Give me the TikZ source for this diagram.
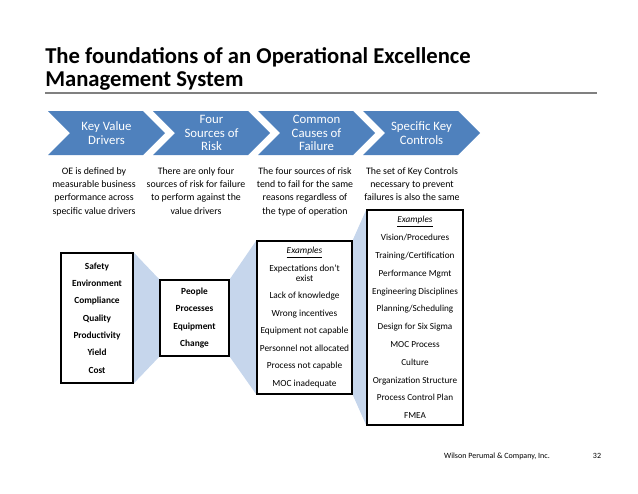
\documentclass[tikz,border=0pt]{standalone}
\usepackage{fontspec}
\setmainfont{Carlito}
\usetikzlibrary{positioning,backgrounds}
\definecolor{chevblue}{RGB}{79,129,189}
\definecolor{linkblue}{RGB}{198,214,236}
\definecolor{rulegray}{RGB}{128,128,128}
\tikzset{
  titletext/.style={anchor=base west, inner sep=0pt, font=\fontsize{17}{19}\selectfont\bfseries},
  chevtext/.style={text=white, align=center, inner sep=0pt, font=\fontsize{9.6}{10}\selectfont},
  desc/.style={anchor=north, align=center, inner sep=0pt, font=\fontsize{7.4}{10}\selectfont},
  box/.style={draw, line width=0.9pt, fill=white, align=center, inner sep=0pt},
  foot/.style={inner sep=0pt, font=\fontsize{6}{7}\selectfont}
}
\newcommand{\exhead}{\underline{\textit{Examples}}}
\begin{document}
\begin{tikzpicture}[x=0.75pt, y=-0.75pt]
    \useasboundingbox (0,0) rectangle (638,493);
    \node[titletext] (title1) at (45,63) {The foundations of an Operational Excellence};
    \node[titletext] (title2) at (45,86) {Management System};
    \draw[rulegray, line width=1.1pt] (45,93) -- (597,93);
    \foreach \i/\txt in {0/{Key Value\\Drivers}, 1/{Four\\Sources of\\Risk}, 2/{Common\\Causes of\\Failure}, 3/{Specific Key\\Controls}} {
        \pgfmathsetmacro\xl{48+105*\i}
        \fill[chevblue] (\xl,111) -- ++(95,0) -- ++(22,22) -- ++(-22,22) -- ++(-95,0) -- ++(22,-22) -- cycle;
        \node[chevtext] (chev\i) at (\xl+58.5,133) {\txt};
    }
    \node[desc] (desc0) at (94,167) {OE is defined by\\measurable business\\performance across\\specific value drivers};
    \node[desc] (desc1) at (196,167) {There are only four\\sources of risk for failure\\to perform against the\\value drivers};
    \node[desc] (desc2) at (305,167) {The four sources of risk\\tend to fail for the same\\reasons regardless of\\the type of operation};
    \node[desc] (desc3) at (412,167) {The set of Key Controls\\necessary to prevent\\failures is also the same};
    \node[box, minimum width=54pt, minimum height=97.5pt, font=\fontsize{7}{13}\selectfont\bfseries] (drivers) at (97,318)
        {Safety\\Environment\\Compliance\\Quality\\Productivity\\Yield\\Cost};
    \node[box, minimum width=51.75pt, minimum height=57pt, font=\fontsize{7}{13}\selectfont\bfseries] (risk) at (194.5,318)
        {People\\Processes\\Equipment\\Change};
    \node[box, minimum width=71.25pt, minimum height=114.75pt, font=\fontsize{7}{13.1}\selectfont] (failure) at (304.5,317.5)
        {\exhead\\Expectations don't\\[-5.5pt]exist\\Lack of knowledge\\Wrong incentives\\Equipment not capable\\Personnel not allocated\\Process not capable\\MOC inadequate};
    \node[box, minimum width=72pt, minimum height=161.25pt, font=\fontsize{6.9}{13.35}\selectfont] (controls) at (415,317.5)
        {\exhead\\Vision/Procedures\\Training/Certification\\Performance Mgmt\\Engineering Disciplines\\Planning/Scheduling\\Design for Six Sigma\\MOC Process\\Culture\\Organization Structure\\Process Control Plan\\FMEA};
    \begin{scope}[on background layer]
        \fill[linkblue] (drivers.north east) -- (risk.north west) -- (risk.south west) -- (drivers.south east) -- cycle;
        \fill[linkblue] (risk.north east) -- (failure.north west) -- (failure.south west) -- (risk.south east) -- cycle;
        \fill[linkblue] (failure.north east) -- (controls.north west) -- (controls.south west) -- (failure.south east) -- cycle;
    \end{scope}
    \node[foot] (firm) at (497,456) {Wilson Perumal \& Company, Inc.};
    \node[foot] (page) at (597,456) {32};
\end{tikzpicture}
\end{document}
